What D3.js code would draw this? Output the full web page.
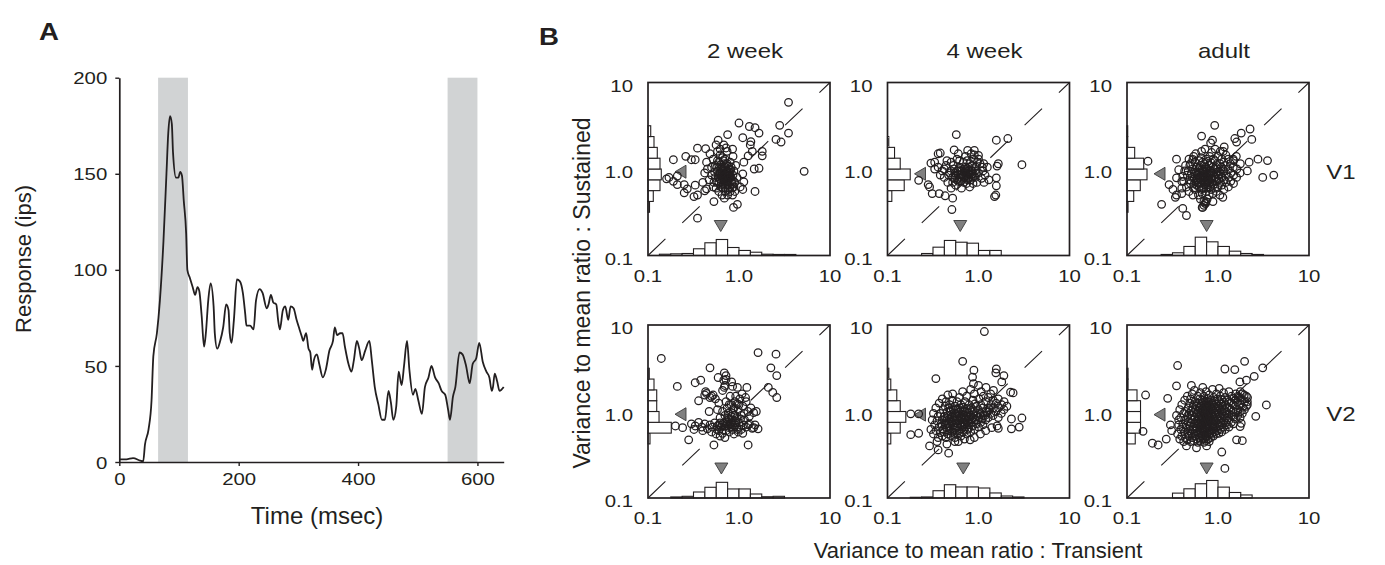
<!DOCTYPE html>
<html><head><meta charset="utf-8">
<script src="https://cdn.jsdelivr.net/npm/d3@7"></script>
<style>
body{margin:0;background:#fff;}
svg text{font-family:"Liberation Sans",Arial,Helvetica,sans-serif;}
</style></head><body>
<svg id="chart" width="1385" height="565"></svg>
<script>
// ---------------- Panel A data ----------------
const timeMs = [0,12,23,35,40,43,49,54,57,63,68,74,79,82,85,88,90,95,99,102,105,108,112,114,118,123,127,131,134,138,142,145,149,153,158,160,164,169,174,179,183,185,188,192,197,202,207,211,213,219,225,229,235,240,247,250,254,258,263,266,269,274,278,283,287,292,297,302,306,308,313,317,320,323,326,331,335,341,346,352,358,361,365,370,374,378,384,389,393,398,402,406,412,419,423,428,434,440,445,451,455,459,464,468,473,477,482,486,492,496,501,507,512,518,523,529,535,540,546,551,554,559,563,570,575,581,587,592,598,603,609,615,620,624,626,629,633,637,644];
const responseIps = [1.4,1.4,2,0.7,0.3,9,17,32,55,67,84,115,150,171,180,176,161,148,148,151,149,136,119,100,96,91,87,91,89,76,60,67,84,93,81,67,59,63,70,82,79,67,62,74,95,94,88,77,71,71,69,84,90,88,80,82,87,83,82,74,69,79,81,74,81,80,74,69,65,63,67,59,57,48,53,56,51,44,48,58,63,70,66,67,67,60,51,47,53,63,59,53,58,63,53,39,30,22,22,37,31,22,29,47,40,50,63,48,35,38,32,25,39,44,50,44,41,37,35,27,22,34,39,57,56,50,41,51,54,62,52,47,44,37,39,46,42,37,39];
const shadedWindows = [[65,115],[550,600]];
const aYTicks = [0,50,100,150,200];
const aXTicks = [0,200,400,600];

// ---------------- Panel B data ----------------
const ageGroups = ["2 week","4 week","adult"];
const areas = ["V1","V2"];
const ratioTicks = [0.1,1,10];
const ratioTickLabels = ["0.1","1.0","10"];
const binEdges = [0.1,0.1334,0.1778,0.2371,0.3162,0.4217,0.5623,0.7499,1,1.3335,1.7783,2.3714,3.1623,4.217,5.6234,7.4989,10];

// histogram values (% of cells) per bin of binEdges
const v1_2week_histT = [0,1.6,2.1,2.5,8.4,15.9,20,10,6.3,4.1,1.6,1.3,1.3,0,0,0];
const v1_2week_histS = [0,0,0,0,1.9,6.6,15,16.6,15,11.6,7.5,3.4,0,0,0,0];
const v1_4week_histT = [0,0,0,2.5,10.4,18.8,16.6,15.4,6.3,6.3,0,0,0,0,0,0];
const v1_4week_histS = [0,0,0,0,0,5.4,20.9,28.4,15.9,8.8,1.6,0,0,0,0,0];
const v1_adult_histT = [0,0,0,1.3,3.4,11.3,22.9,17.1,11.3,5.4,2.5,1.3,0,0,0,0];
const v1_adult_histS = [0,0,0,0,1.3,8.4,16.6,25,20.9,9.6,0.9,0.9,0,0,0,0];
const v2_2week_histT = [0,0,1.3,2.1,7.5,13.4,19.6,11.3,11.3,5,1.6,2.1,0,0,0,0];
const v2_2week_histS = [0,0,0,0,0,2.5,29.1,13.8,10.9,10.9,7.5,1.6,0,0,0,0];
const v2_4week_histT = [0,0,0.9,1.3,9.1,16.6,13.8,13.8,12.5,6.3,2.5,1.3,0,0,0,0];
const v2_4week_histS = [0,0,0,0,0,4.1,15.9,22.9,15.9,11.6,4.1,1.6,0,0,0,0];
const v2_adult_histT = [0,0,0,0,6.1,11.5,17.8,21.9,13.6,6.9,3.8,0,0,0,0,0];
const v2_adult_histS = [0,0,0,0,0,10.3,16.9,16.9,16.9,12.5,1.3,1.3,0,0,0,0];

// mean markers [V1 2wk, V1 4wk, V1 adult, V2 2wk, V2 4wk, V2 adult]
const meanTransient = [0.63,0.63,0.75,0.64,0.68,0.75];
const meanSustained = [0.93,0.88,0.88,0.93,0.92,0.92];

// cells: [transient ratio, sustained ratio]
const v1_2week = [[3.5,5.9],[1.0,3.4],[1.3,3.1],[1.5,3.0],[1.66,2.6],[2.8,3.2],[3.5,2.6],[2.55,2.2],[2.9,2.05],[1.8,1.6],[0.75,2.5],[1.1,2.3],[1.35,2.07],[1.33,1.9],[0.85,1.7],[0.35,1.74],[0.43,1.72],[0.56,1.9],[0.59,2.15],[0.19,1.28],[0.26,1.4],[0.3,1.28],[0.33,1.28],[0.16,0.77],[0.17,0.8],[0.19,0.72],[0.21,0.66],[0.21,0.83],[0.25,0.66],[0.27,0.59],[0.25,0.53],[0.33,0.65],[0.32,0.48],[0.35,0.5],[0.42,0.56],[0.44,0.59],[0.53,0.42],[0.69,0.46],[0.87,0.36],[0.96,0.39],[0.35,0.27],[1.13,0.71],[1.1,0.88],[1.47,1.0],[1.66,1.02],[1.13,1.2],[1.03,0.62],[1.1,0.58],[1.5,0.55],[5.2,0.94],[1.26,1.42],[1.4,1.6],[1.8,1.42],
[0.48,1.5],[0.52,1.3],[0.55,1.1],[0.58,0.95],[0.6,1.2],[0.62,1.45],[0.64,0.85],[0.66,1.05],[0.68,0.75],[0.7,1.3],[0.72,0.9],[0.74,1.6],[0.76,0.65],[0.78,1.0],[0.8,1.2],[0.82,0.8],[0.84,0.6],[0.86,1.4],[0.88,0.95],[0.9,0.7],[0.5,0.85],[0.53,0.7],[0.56,0.6],[0.45,1.0],[0.47,0.75],[0.6,0.55],[0.65,0.5],[0.7,0.55],[0.75,0.5],[0.8,0.55],[0.85,0.5],[0.9,0.55],[0.62,1.7],[0.68,1.9],[0.72,1.75],[0.58,1.6],[0.66,1.35],[0.74,1.15],[0.78,0.85],[0.55,0.8],[0.6,0.7],[0.64,0.62],[0.7,0.65],[0.76,0.78],[0.82,1.05],[0.86,0.85],[0.92,1.1],[0.95,0.8],[0.42,0.9],[0.44,1.2],[0.5,1.05],[0.54,0.92],[0.58,1.25],[0.66,0.9],[0.7,1.05],[0.74,0.82],[0.78,0.7],[0.83,0.68],[0.88,0.62],[0.4,0.7],[0.63,1.0],[0.69,1.15],[0.57,1.05],[0.73,0.97],[0.8,0.92],
[0.61,0.78],[0.67,0.68],[0.71,0.78],[0.75,0.72],[0.79,0.62],[0.84,0.75],[0.65,0.95],[0.69,0.88],[0.73,1.1],[0.77,1.08],[0.81,0.98],[0.63,1.12],[0.59,0.82],[0.52,0.62],[0.71,0.6],[0.76,0.58],[0.87,0.72],[0.67,1.25],[0.62,0.9],[0.57,0.7],
[0.6,0.88],[0.62,0.76],[0.66,0.8],[0.68,0.98],[0.71,0.85],[0.74,0.72],[0.77,0.92],[0.79,0.8],[0.64,0.7],[0.7,0.75],[0.72,0.68],[0.66,0.6],[0.75,0.9],[0.68,0.82]];

const v1_4week = [[0.57,2.5],[1.57,2.15],[2.1,2.25],[3.0,1.12],[1.57,0.79],[1.57,0.64],[1.55,0.5],[1.5,0.48],[1.65,1.15],[1.6,1.08],[1.14,1.15],[1.0,1.44],[0.9,1.64],[0.76,1.64],[0.83,1.5],[0.54,1.66],[0.36,1.5],[0.38,1.53],[0.3,1.17],[0.33,1.2],[0.22,0.74],[0.28,0.66],[0.29,0.62],[0.31,0.52],[0.37,0.52],[0.43,0.49],[0.52,0.46],[0.51,0.34],[0.33,1.0],[0.36,1.05],
[0.4,0.95],[0.42,0.8],[0.44,1.1],[0.46,0.7],[0.48,0.9],[0.5,1.2],[0.52,0.8],[0.54,1.0],[0.56,0.65],[0.58,1.3],[0.6,0.85],[0.62,1.05],[0.64,0.72],[0.66,0.95],[0.68,1.2],[0.7,0.8],[0.72,1.4],[0.74,0.68],[0.76,1.0],[0.78,0.88],[0.8,1.15],[0.82,0.75],[0.85,0.95],[0.88,1.3],[0.9,0.82],[0.93,1.05],[0.96,0.7],[1.0,0.9],[1.04,1.15],[1.08,0.78],[1.12,0.95],[1.18,0.85],[1.25,1.05],[1.3,0.75],[0.45,1.25],[0.5,0.6],[0.55,0.9],[0.6,1.5],[0.65,0.6],[0.7,1.0],[0.75,1.25],[0.8,0.62],[0.85,1.1],[0.9,1.45],[0.95,0.9],[0.58,0.75],[0.63,0.95],[0.68,0.85],[0.73,0.78],[0.78,1.05],[0.83,0.85],[0.53,1.1],[0.47,0.85],[0.87,0.68],[1.0,1.3],[1.1,1.05],[1.15,0.7],[0.38,0.85],[0.42,1.0],[0.62,1.25],[0.72,0.95],[0.92,0.95],[0.97,1.2],
[0.5,0.95],[0.55,0.78],[0.6,0.72],[0.64,0.85],[0.69,0.7],[0.73,0.9],[0.77,0.78],[0.82,0.98],[0.86,0.8],[0.52,0.7],
[0.55,0.85],[0.58,0.95],[0.62,0.8],[0.66,0.88],[0.7,0.92],[0.74,0.85],[0.78,0.95],[0.82,0.9],[0.66,0.78],[0.6,0.98],[0.72,1.05],[0.76,0.75],[0.88,0.88],[0.92,0.8]];

const v1_adult = [[0.92,3.2],[0.66,2.4],[0.87,2.15],[0.83,2.0],[1.53,2.25],[1.6,2.05],[1.8,2.6],[2.25,2.9],[2.35,2.2],[2.75,1.3],[3.5,1.25],[3.1,0.8],[4.1,0.85],[2.1,0.95],[2.2,1.2],[0.17,1.23],[0.35,1.3],[0.37,0.98],[0.29,0.66],[0.32,0.58],[0.35,0.5],[0.4,0.52],[0.34,0.47],[0.24,0.39],[0.41,0.35],[0.45,0.29],[0.67,0.36],[0.88,0.42],[1.13,0.47],[0.53,1.29],[0.49,1.1],[1.47,1.3],[1.14,1.6],[0.35,0.79],[0.4,0.72],
[0.45,0.62],[0.46,0.85],[0.44,1.1],[0.48,0.55],[0.49,0.75],[0.47,0.95],[0.48,1.3],[0.5,0.68],[0.51,0.88],[0.5,1.15],[0.53,0.5],[0.54,0.6],[0.52,0.8],[0.53,1.0],[0.54,1.4],[0.56,0.58],[0.57,0.72],[0.55,0.92],[0.56,1.2],[0.58,0.65],[0.59,0.85],[0.58,1.05],[0.57,1.5],[0.61,0.5],[0.62,0.62],[0.6,0.78],[0.61,0.98],[0.62,1.25],[0.64,0.45],[0.65,0.7],[0.63,0.9],[0.64,1.1],[0.65,1.35],[0.67,0.52],[0.68,0.6],[0.66,0.82],[0.67,1.0],[0.68,1.2],[0.66,1.6],[0.7,0.42],[0.71,0.66],[0.69,0.75],[0.7,0.94],[0.71,1.15],[0.73,0.4],[0.74,0.55],[0.72,0.8],[0.73,1.05],[0.74,1.3],[0.72,1.7],[0.76,0.45],[0.77,0.62],[0.75,0.88],[0.76,0.98],[0.77,1.22],[0.8,0.5],[0.81,0.7],[0.79,0.84],[0.8,1.1],[0.81,1.4],[0.84,0.58],[0.85,0.76],[0.83,0.95],[0.84,1.18],[0.85,1.55],[0.88,0.52],[0.89,0.66],[0.87,0.9],[0.88,1.05],[0.89,1.3],[0.92,0.6],[0.93,0.8],[0.91,1.0],[0.92,1.25],[0.93,1.7],[0.96,0.55],[0.97,0.72],[0.95,0.88],[0.96,1.12],[1.0,0.62],[1.01,0.85],[0.99,1.0],[1.0,1.4],[1.05,0.5],[1.06,0.7],[1.04,0.92],[1.05,1.15],[1.06,1.6],[1.1,0.65],[1.11,0.8],[1.09,1.05],[1.1,1.3],[1.16,0.58],[1.17,0.75],[1.15,0.95],[1.16,1.2],[1.17,1.8],[1.22,0.7],[1.23,0.88],[1.21,1.1],[1.22,1.45],[1.3,0.62],[1.31,0.8],[1.29,1.0],[1.3,1.3],[1.38,0.72],[1.39,0.9],[1.37,1.15],[1.48,0.68],[1.49,0.85],[1.47,1.05],[1.48,1.25],[1.6,0.8],[1.61,1.0],[1.59,1.4],[1.75,0.9],[1.76,1.15],[0.42,0.72],[0.43,0.95],[0.4,0.6],[0.41,0.82],[0.68,0.36],[0.7,0.38],[0.72,0.4],[0.74,0.42],
[0.6,0.7],[0.63,0.8],[0.66,0.74],[0.69,0.86],[0.72,0.7],[0.75,0.8],[0.78,0.74],[0.82,0.86],[0.86,0.78],[0.62,1.02],[0.68,0.95],[0.74,1.0],[0.8,0.95],[0.58,0.92],[0.55,0.78],
[0.55,0.68],[0.58,0.75],[0.61,0.86],[0.64,0.78],[0.67,0.9],[0.7,0.82],[0.73,0.92],[0.76,0.7],[0.79,0.78],[0.83,0.9],[0.86,0.68],[0.9,0.84],[0.94,0.76],[0.98,0.92],[1.02,0.78],[1.08,0.88],[1.14,1.0],[0.62,0.68],[0.66,0.58],[0.7,0.6],[0.78,0.66],[0.74,0.6],[0.82,0.62]];

const v2_2week = [[0.14,4.1],[1.62,4.8],[2.55,4.6],[2.24,3.2],[2.6,2.6],[2.1,1.9],[2.35,1.66],[2.6,1.45],[0.21,1.95],[0.33,2.15],[0.38,2.3],[0.48,3.2],[0.59,2.47],[0.69,2.8],[0.72,2.6],[0.83,2.2],[0.85,1.95],[0.36,1.33],[0.43,1.7],[0.42,1.55],[0.69,1.9],[0.96,1.9],[1.22,1.9],[0.47,1.0],[0.2,0.68],[0.24,0.65],[0.28,0.47],[0.53,0.41],[1.26,0.41],[1.62,0.63],[1.55,1.0],[1.45,0.97],[1.26,0.7],[1.45,0.65],
[0.3,0.72],[0.33,0.68],[0.36,0.75],[0.39,0.66],[0.42,0.72],[0.45,0.63],[0.48,0.7],[0.51,0.66],[0.54,0.74],[0.57,0.62],[0.6,0.7],[0.64,0.66],[0.68,0.74],[0.72,0.6],[0.76,0.68],[0.8,0.72],[0.85,0.62],[0.9,0.7],[0.95,0.66],[1.0,0.74],[1.06,0.62],[1.12,0.7],[1.2,0.66],[1.3,0.72],[1.4,0.64],[1.5,0.7],[0.32,0.62],[0.4,0.6],[0.5,0.58],[0.56,0.55],[0.62,0.52],[0.66,0.56],[0.7,0.5],[0.78,0.58],[0.88,0.55],[0.98,0.58],[1.1,0.56],
[0.62,0.85],[0.66,1.0],[0.7,0.9],[0.74,1.1],[0.78,0.82],[0.82,1.2],[0.86,0.95],[0.9,1.3],[0.94,0.85],[0.98,1.05],[1.02,1.4],[1.06,0.9],[1.1,1.15],[1.15,0.8],[1.2,1.3],[1.25,1.0],[1.3,0.88],[0.72,1.3],[0.8,1.5],[0.88,1.1],[0.76,0.95],[0.84,0.8],[0.92,1.5],[1.0,1.2],[1.08,1.6],[1.18,1.45],[1.35,1.1],[0.58,1.05],[0.55,1.4],[0.6,1.25],[0.5,1.5],[0.52,1.55],[0.48,1.45],[0.66,1.75],[0.7,2.0],[0.68,2.3],[0.72,2.35],[0.44,1.62],
[0.74,0.76],[0.82,0.66],[0.92,0.78],[1.04,0.82],[0.86,1.05],[0.96,1.22],[0.78,1.2],[1.14,0.95],[0.7,0.68],[0.6,0.6],
[0.58,0.68],[0.62,0.74],[0.66,0.7],[0.74,0.72],[0.78,0.65],[0.82,0.76],[0.86,0.7],[0.92,0.74],[0.96,0.62],[0.82,0.88],[0.76,0.84],[0.9,0.9]];

const v2_4week = [[1.16,8.4],[0.67,3.8],[0.89,3.0],[0.86,2.5],[0.88,2.1],[1.57,3.1],[1.55,2.8],[1.9,2.6],[1.8,2.2],[2.25,1.67],[2.4,1.64],[0.34,2.4],[0.18,0.94],[0.22,0.94],[0.18,0.54],[0.22,0.56],[0.29,0.4],[0.36,0.36],[0.47,0.33],[2.3,0.82],[3.0,0.84],[2.8,0.66],[2.3,0.63],[1.6,0.68],[1.65,0.64],[0.55,0.45],[0.81,0.47],
[0.3,0.62],[0.31,0.8],[0.32,0.55],[0.33,0.7],[0.32,0.95],[0.34,0.6],[0.35,0.78],[0.34,1.1],[0.36,0.5],[0.37,0.66],[0.36,0.88],[0.37,1.25],[0.38,0.57],[0.39,0.72],[0.38,0.95],[0.4,0.52],[0.41,0.62],[0.4,0.8],[0.41,1.05],[0.4,1.4],[0.42,0.58],[0.43,0.7],[0.42,0.88],[0.43,1.15],[0.44,0.5],[0.45,0.65],[0.44,0.78],[0.45,0.98],[0.44,1.3],[0.46,0.55],[0.47,0.72],[0.46,0.9],[0.47,1.1],[0.46,1.55],[0.48,0.6],[0.49,0.68],[0.48,0.82],[0.49,1.0],[0.48,1.2],[0.5,0.52],[0.51,0.75],[0.5,0.92],[0.51,1.35],[0.52,0.58],[0.53,0.7],[0.52,0.86],[0.53,1.05],[0.52,1.6],[0.55,0.5],[0.56,0.64],[0.55,0.8],[0.56,0.95],[0.55,1.15],[0.58,0.56],[0.59,0.72],[0.58,0.88],[0.59,1.08],[0.58,1.3],[0.61,0.6],[0.62,0.78],[0.61,0.98],[0.62,1.45],[0.64,0.52],[0.65,0.68],[0.64,0.85],[0.65,1.02],[0.64,1.2],[0.67,0.58],[0.68,0.75],[0.67,0.92],[0.68,1.12],[0.67,1.7],[0.7,0.62],[0.71,0.8],[0.7,1.0],[0.71,1.3],[0.74,0.55],[0.75,0.7],[0.74,0.88],[0.75,1.08],[0.74,1.5],[0.78,0.64],[0.79,0.82],[0.78,0.96],[0.79,1.2],[0.82,0.58],[0.83,0.75],[0.82,0.9],[0.83,1.1],[0.82,1.8],[0.86,0.68],[0.87,0.85],[0.86,1.05],[0.87,1.35],[0.9,0.62],[0.91,0.8],[0.9,1.0],[0.91,1.22],[0.9,1.6],[0.95,0.72],[0.96,0.9],[0.95,1.15],[1.0,0.66],[1.01,0.85],[1.0,1.05],[1.01,1.4],[1.0,2.0],[1.06,0.75],[1.07,0.95],[1.06,1.2],[1.07,1.7],[1.12,0.7],[1.13,0.9],[1.12,1.1],[1.13,1.5],[1.2,0.8],[1.21,1.0],[1.2,1.3],[1.21,1.9],[1.28,0.85],[1.29,1.1],[1.28,1.45],[1.36,0.95],[1.37,1.2],[1.36,1.6],[1.45,0.9],[1.46,1.1],[1.45,1.35],[1.46,1.75],[1.55,1.0],[1.56,1.25],[1.65,0.85],[1.66,1.1],[1.65,1.4],[1.78,0.95],[1.79,1.2],[1.9,1.05],[1.91,1.3],[2.05,1.15],[0.35,0.45],[0.45,0.42],[0.6,0.45],[0.7,0.48],[0.9,0.5],[1.05,0.55],[1.2,0.6],[1.4,0.65],
[0.43,0.74],[0.45,0.84],[0.47,0.64],[0.49,0.78],[0.51,0.88],[0.53,0.64],[0.55,0.74],[0.57,0.84],[0.59,0.66],[0.61,0.9],[0.63,0.72],[0.65,0.8],[0.67,0.66],[0.69,0.9],[0.71,0.72],[0.73,0.82],[0.76,0.62],[0.78,0.74],[0.8,0.86],[0.84,0.8],[0.5,1.05],[0.56,1.05],[0.62,1.1],[0.68,1.02],[0.74,0.98],[0.8,1.05],[0.54,0.56],[0.62,0.56],[0.7,0.7],[0.45,0.72],[0.58,0.8],[0.66,0.86],[0.72,0.9],[0.88,0.92],[0.94,0.8],[1.04,0.92],[1.1,0.82],[1.18,0.9],[1.25,0.98],[1.32,1.05]];

const v2_adult = [[0.36,3.4],[1.19,3.1],[1.53,3.05],[1.96,3.8],[3.1,3.2],[2.5,2.55],[2.05,2.3],[1.74,2.2],[0.16,1.55],[0.28,1.42],[0.35,1.98],[0.51,2.0],[0.15,0.59],[0.19,0.43],[0.22,0.41],[0.27,0.48],[3.4,1.19],[2.6,0.88],[1.8,0.73],[1.75,0.67],[1.6,0.47],[1.85,0.46],[1.19,0.22],[1.1,0.34],[0.75,0.4],[0.58,0.38],[0.45,0.4],[2.05,1.5],[2.1,1.3],[2.05,1.15],[0.3,0.7],[0.31,0.6],
[0.36,0.55],[0.37,0.7],[0.35,0.9],[0.38,0.48],[0.39,0.62],[0.37,0.8],[0.38,1.05],[0.4,0.52],[0.41,0.66],[0.39,0.85],[0.4,1.2],[0.42,0.45],[0.43,0.58],[0.41,0.72],[0.42,0.95],[0.43,1.35],[0.44,0.5],[0.45,0.64],[0.43,0.8],[0.44,1.0],[0.46,0.47],[0.47,0.55],[0.45,0.7],[0.46,0.88],[0.47,1.1],[0.46,1.5],[0.48,0.52],[0.49,0.6],[0.47,0.76],[0.48,0.95],[0.49,1.25],[0.5,0.45],[0.51,0.57],[0.49,0.68],[0.5,0.82],[0.51,1.02],[0.5,1.4],[0.52,0.5],[0.53,0.62],[0.51,0.74],[0.52,0.9],[0.53,1.12],[0.52,1.6],[0.54,0.46],[0.55,0.55],[0.53,0.66],[0.54,0.8],[0.55,0.98],[0.54,1.2],[0.56,0.52],[0.57,0.6],[0.55,0.72],[0.56,0.86],[0.57,1.05],[0.56,1.3],[0.55,1.75],[0.58,0.48],[0.59,0.57],[0.57,0.68],[0.58,0.78],[0.59,0.94],[0.58,1.15],[0.6,0.44],[0.61,0.54],[0.59,0.64],[0.6,0.74],[0.61,0.88],[0.6,1.0],[0.61,1.25],[0.6,1.5],[0.62,0.5],[0.63,0.6],[0.61,0.7],[0.62,0.82],[0.63,0.96],[0.62,1.1],[0.63,1.4],[0.64,0.46],[0.65,0.56],[0.63,0.66],[0.64,0.76],[0.65,0.9],[0.64,1.05],[0.65,1.2],[0.64,1.65],[0.66,0.52],[0.67,0.62],[0.65,0.72],[0.66,0.84],[0.67,1.0],[0.66,1.15],[0.67,1.35],[0.68,0.48],[0.69,0.58],[0.67,0.68],[0.68,0.8],[0.69,0.94],[0.68,1.08],[0.69,1.28],[0.68,1.9],[0.7,0.44],[0.71,0.54],[0.69,0.64],[0.7,0.75],[0.71,0.88],[0.7,1.02],[0.71,1.18],[0.7,1.5],[0.72,0.5],[0.73,0.6],[0.71,0.7],[0.72,0.82],[0.73,0.96],[0.72,1.12],[0.73,1.32],[0.74,0.46],[0.75,0.56],[0.73,0.66],[0.74,0.78],[0.75,0.9],[0.74,1.05],[0.75,1.24],[0.74,1.7],[0.76,0.52],[0.77,0.62],[0.75,0.72],[0.76,0.86],[0.77,1.0],[0.76,1.16],[0.77,1.42],[0.78,0.48],[0.79,0.58],[0.77,0.68],[0.78,0.8],[0.79,0.94],[0.78,1.1],[0.79,1.3],[0.8,0.45],[0.81,0.55],[0.79,0.65],[0.8,0.76],[0.81,0.88],[0.8,1.03],[0.81,1.2],[0.8,1.55],[0.83,0.5],[0.84,0.6],[0.82,0.7],[0.83,0.83],[0.84,0.97],[0.83,1.14],[0.84,1.36],[0.86,0.56],[0.87,0.66],[0.85,0.78],[0.86,0.92],[0.87,1.08],[0.86,1.25],[0.87,1.8],[0.89,0.52],[0.9,0.62],[0.88,0.72],[0.89,0.86],[0.9,1.0],[0.89,1.18],[0.9,1.45],[0.92,0.58],[0.93,0.68],[0.91,0.8],[0.92,0.95],[0.93,1.12],[0.92,1.32],[0.95,0.55],[0.96,0.65],[0.94,0.76],[0.95,0.9],[0.96,1.05],[0.95,1.22],[0.96,1.6],[0.98,0.6],[0.99,0.72],[0.97,0.85],[0.98,1.0],[0.99,1.16],[0.98,1.4],[1.02,0.56],[1.03,0.68],[1.01,0.8],[1.02,0.94],[1.03,1.1],[1.02,1.3],[1.03,1.85],[1.06,0.62],[1.07,0.74],[1.05,0.88],[1.06,1.04],[1.07,1.22],[1.06,1.5],[1.1,0.58],[1.11,0.7],[1.09,0.83],[1.1,0.98],[1.11,1.15],[1.1,1.38],[1.15,0.66],[1.16,0.78],[1.14,0.92],[1.15,1.08],[1.16,1.28],[1.15,1.65],[1.2,0.62],[1.21,0.74],[1.19,0.88],[1.2,1.02],[1.21,1.2],[1.2,1.45],[1.26,0.7],[1.27,0.84],[1.25,0.98],[1.26,1.14],[1.27,1.35],[1.32,0.66],[1.33,0.8],[1.31,0.94],[1.32,1.1],[1.33,1.3],[1.32,1.7],[1.4,0.75],[1.41,0.9],[1.39,1.05],[1.4,1.25],[1.41,1.5],[1.48,0.72],[1.49,0.86],[1.47,1.0],[1.48,1.2],[1.49,1.42],[1.56,0.82],[1.57,0.98],[1.55,1.15],[1.56,1.35],[1.57,1.6],[1.65,0.9],[1.66,1.05],[1.64,1.28],[1.65,1.5],[1.75,0.85],[1.76,1.0],[1.74,1.2],[1.75,1.45],[1.76,1.7],[1.85,0.95],[1.86,1.12],[1.84,1.35],[1.85,1.6],[1.95,1.05],[1.96,1.3],[1.94,1.55],[2.1,1.2],[2.11,1.45]];

// ---------------- drawing ----------------
const ink = "#231f20";
const svg = d3.select("#chart");

function addText(x, y, str, o) {
  return svg.append("text")
    .attr("transform", `translate(${x},${y})` + (o.rotate ? ` rotate(${o.rotate})` : "") + ` scale(${o.sx || 1},1)`)
    .attr("text-anchor", o.anchor || "middle")
    .style("font-size", o.size + "px")
    .style("font-weight", o.weight || "normal")
    .attr("fill", ink)
    .text(str);
}

// Panel A
const xA = d3.scaleLinear().domain([0, 644]).range([119.3, 503.7]);
const yA = d3.scaleLinear().domain([0, 200]).range([462, 77.7]);
const gA = svg.append("g");
gA.selectAll("rect.shade").data(shadedWindows).join("rect")
  .attr("class", "shade")
  .attr("x", d => xA(d[0])).attr("width", d => xA(d[1]) - xA(d[0]))
  .attr("y", yA(200)).attr("height", yA(0) - yA(200))
  .attr("fill", "#d1d3d4");
const seriesA = timeMs.map((t, i) => [t, responseIps[i]]);
gA.append("path").datum(seriesA)
  .attr("d", d3.line().curve(d3.curveMonotoneX).x(d => xA(d[0])).y(d => yA(d[1])))
  .attr("fill", "none").attr("stroke", ink).attr("stroke-width", 1.8).attr("stroke-linejoin", "round");

const axY = gA.append("g").attr("transform", `translate(${xA(0)},0)`)
  .call(d3.axisLeft(yA).tickValues(aYTicks).tickSize(4).tickSizeOuter(0));
const axX = gA.append("g").attr("transform", `translate(0,${yA(0)})`)
  .call(d3.axisBottom(xA).tickValues(aXTicks).tickSize(4).tickSizeOuter(0));
[axY, axX].forEach(ax => {
  ax.select(".domain").attr("stroke", ink).attr("stroke-width", 1.7);
  ax.selectAll(".tick line").attr("stroke", ink).attr("stroke-width", 1.4);
});
axY.selectAll(".tick text").attr("x", null).attr("dy", "0.36em")
  .attr("transform", "translate(-12,0) scale(1.2,1)").style("font-size", "17px").attr("fill", ink);
axX.selectAll(".tick text").attr("y", null).attr("dy", null)
  .attr("transform", "translate(0,23) scale(1.2,1)").style("font-size", "17px").attr("fill", ink);

addText(31, 259, "Response (ips)", {size: 22, rotate: -90});
addText(317, 524, "Time (msec)", {size: 24});
addText(39, 40, "A", {size: 23, weight: "bold", anchor: "start", sx: 1.2});

// Panel B
const colX = [648, 887.5, 1127], rowY = [82.5, 325], W = 182, H = 173;
const hs = d3.scaleLinear().domain([0, 25]).range([0, 20]);
const panels = [
  {pts: v1_2week, hx: v1_2week_histT, hy: v1_2week_histS, row: 0, col: 0},
  {pts: v1_4week, hx: v1_4week_histT, hy: v1_4week_histS, row: 0, col: 1},
  {pts: v1_adult, hx: v1_adult_histT, hy: v1_adult_histS, row: 0, col: 2},
  {pts: v2_2week, hx: v2_2week_histT, hy: v2_2week_histS, row: 1, col: 0},
  {pts: v2_4week, hx: v2_4week_histT, hy: v2_4week_histS, row: 1, col: 1},
  {pts: v2_adult, hx: v2_adult_histT, hy: v2_adult_histS, row: 1, col: 2}
];

panels.forEach((p, i) => {
  const x0 = colX[p.col], y0 = rowY[p.row];
  const xs = d3.scaleLog().domain([0.1, 10]).range([x0, x0 + W]);
  const ys = d3.scaleLog().domain([0.1, 10]).range([y0 + H, y0]);
  const g = svg.append("g");

  g.append("line")
    .attr("x1", xs(0.1)).attr("y1", ys(0.1)).attr("x2", xs(10)).attr("y2", ys(10))
    .attr("stroke", ink).attr("stroke-width", 1.1).attr("stroke-dasharray", "24 23.3");

  const hxData = p.hx.map((v, k) => ({v, k})).filter(d => d.v > 0);
  g.selectAll("rect.hx").data(hxData).join("rect").attr("class", "hx")
    .attr("x", d => xs(binEdges[d.k])).attr("width", d => xs(binEdges[d.k + 1]) - xs(binEdges[d.k]))
    .attr("y", d => ys(0.1) - hs(d.v)).attr("height", d => hs(d.v))
    .attr("fill", "#fff").attr("stroke", ink).attr("stroke-width", 1.1);

  const hyData = p.hy.map((v, k) => ({v, k})).filter(d => d.v > 0);
  g.selectAll("rect.hy").data(hyData).join("rect").attr("class", "hy")
    .attr("y", d => ys(binEdges[d.k + 1])).attr("height", d => ys(binEdges[d.k]) - ys(binEdges[d.k + 1]))
    .attr("x", xs(0.1)).attr("width", d => hs(d.v))
    .attr("fill", "#fff").attr("stroke", ink).attr("stroke-width", 1.1);

  const mx = xs(meanTransient[i]), my = ys(meanSustained[i]);
  const yb = ys(0.1), xl = xs(0.1);
  g.append("path").attr("d", `M${mx - 6.5},${yb - 35}L${mx + 6.5},${yb - 35}L${mx},${yb - 24}Z`)
    .attr("fill", "#808080").attr("stroke", "#3a3a3a").attr("stroke-width", 0.9);
  g.append("path").attr("d", `M${xl + 38},${my - 6.5}L${xl + 38},${my + 6.5}L${xl + 27},${my}Z`)
    .attr("fill", "#808080").attr("stroke", "#3a3a3a").attr("stroke-width", 0.9);

  g.selectAll("circle").data(p.pts).join("circle")
    .attr("cx", d => xs(d[0])).attr("cy", d => ys(d[1])).attr("r", 3.8)
    .attr("fill", "none").attr("stroke", ink).attr("stroke-width", 1.25);

  g.append("rect").attr("x", x0).attr("y", y0).attr("width", W).attr("height", H)
    .attr("fill", "none").attr("stroke", ink).attr("stroke-width", 1.7);

  ratioTicks.forEach((v, j) => {
    addText(xs(0.1) - 15, ys(v) + 9, ratioTickLabels[j], {size: 17, anchor: "end", sx: 1.2});
    addText(xs(v), ys(0.1) + 26, ratioTickLabels[j], {size: 17, sx: 1.2});
  });
});

ageGroups.forEach((a, c) => addText(colX[c] + W / 2 + 6, 58, a, {size: 20, sx: 1.2}));
areas.forEach((a, r) => addText(1341, rowY[r] + 96, a, {size: 20, sx: 1.2}));
addText(590, 293, "Variance to mean ratio : Sustained", {size: 23, rotate: -90});
addText(978, 558, "Variance to mean ratio : Transient", {size: 22});
addText(539, 45, "B", {size: 23, weight: "bold", anchor: "start", sx: 1.2});
</script>
</body></html>
